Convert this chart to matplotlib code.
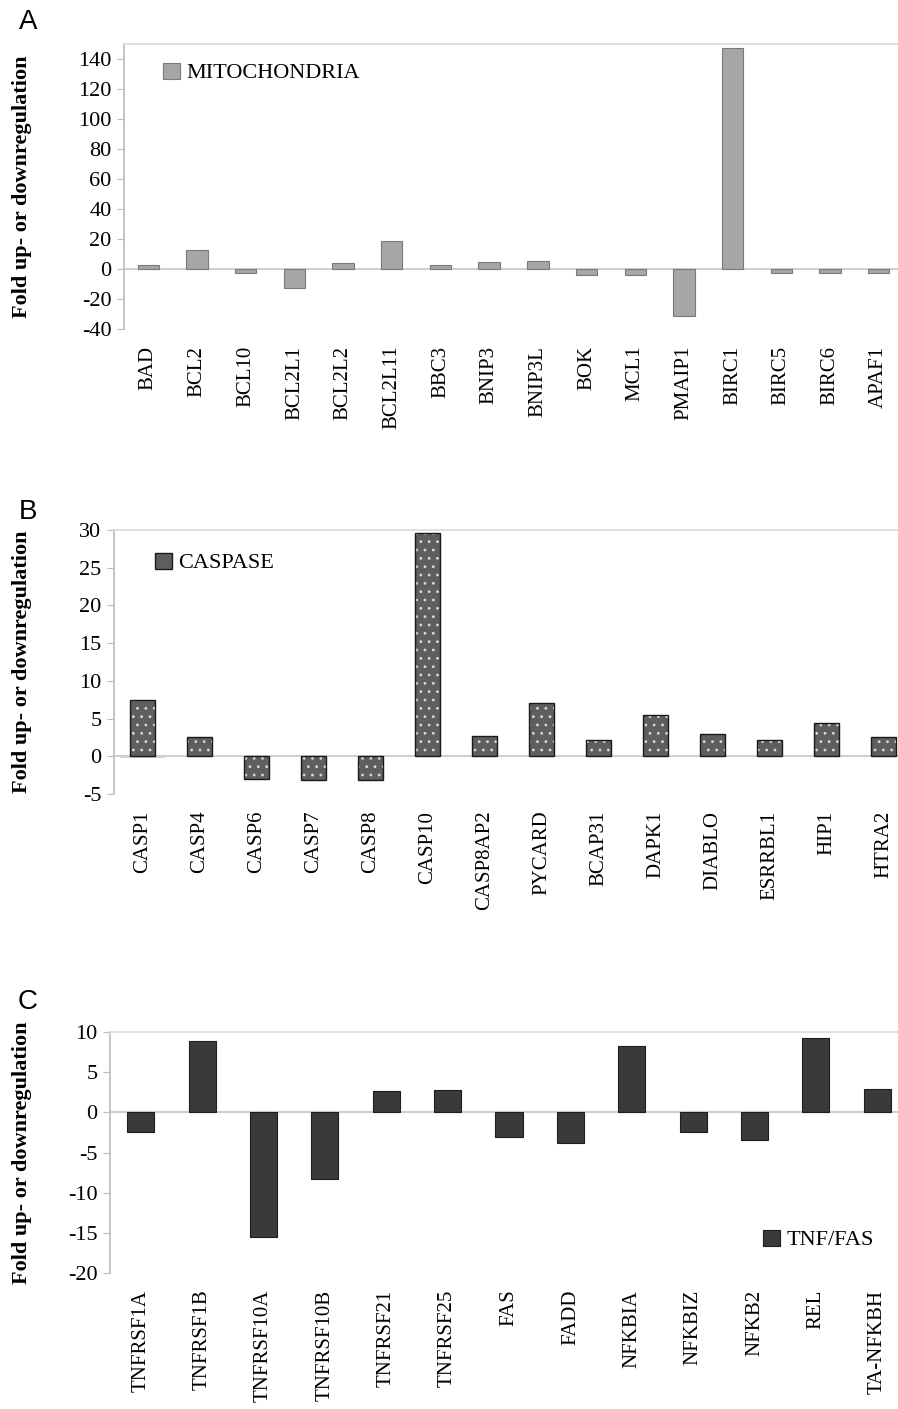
import matplotlib
matplotlib.use("Agg")
import matplotlib.pyplot as plt

plt.rcParams['font.family'] = ['Liberation Serif', 'DejaVu Serif']
plt.rcParams['hatch.linewidth'] = 0.8

# panel A - mitochondria
mitoGenes = ['BAD', 'BCL2', 'BCL10', 'BCL2L1', 'BCL2L2', 'BCL2L11', 'BBC3', 'BNIP3',
             'BNIP3L', 'BOK', 'MCL1', 'PMAIP1', 'BIRC1', 'BIRC5', 'BIRC6', 'APAF1']
mitoFold = [2.8, 12.8, -2.6, -12.7, 3.7, 18.7, 2.8, 4.5, 5.3, -4.2, -4.2, -31, 147.5, -2.6, -2.6, -2.6]
mitoTicks = [-40, -20, 0, 20, 40, 60, 80, 100, 120, 140]

# panel B - caspase
caspGenes = ['CASP1', 'CASP4', 'CASP6', 'CASP7', 'CASP8', 'CASP10', 'CASP8AP2', 'PYCARD',
             'BCAP31', 'DAPK1', 'DIABLO', 'ESRRBL1', 'HIP1', 'HTRA2']
caspFold = [7.4, 2.6, -3.0, -3.2, -3.2, 29.6, 2.75, 7.1, 2.1, 5.5, 2.9, 2.2, 4.4, 2.6]
caspTicks = [-5, 0, 5, 10, 15, 20, 25, 30]

# panel C - TNF/FAS
tnfGenes = ['TNFRSF1A', 'TNFRSF1B', 'TNFRSF10A', 'TNFRSF10B', 'TNFRSF21', 'TNFRSF25', 'FAS',
            'FADD', 'NFKBIA', 'NFKBIZ', 'NFKB2', 'REL', 'TA-NFKBH']
tnfFold = [-2.4, 8.9, -15.5, -8.3, 2.6, 2.8, -3.1, -3.8, 8.2, -2.5, -3.4, 9.3, 2.95]
tnfTicks = [-20, -15, -10, -5, 0, 5, 10]

W, H = 898, 1409
fig = plt.figure(figsize=(W / 100, H / 100), dpi=100)


def make_axes(left, right, top, bottom):
    return fig.add_axes([left / W, 1 - bottom / H, (right - left) / W, (bottom - top) / H])


def style_axes(ax, genes, ticks, ylim):
    ax.set_xlim(-0.5, len(genes) - 0.5)
    ax.set_ylim(ylim)
    ax.set_yticks(ticks)
    ax.set_yticklabels([str(t) for t in ticks], fontsize=16)
    ax.set_xticks(range(len(genes)))
    ax.set_xticklabels(genes, rotation=90, fontsize=15, va='top')
    ax.tick_params(axis='x', length=0, pad=12)
    ax.tick_params(axis='y', length=5, color='#bbbbbb', pad=4)
    for s in ['right', 'bottom']:
        ax.spines[s].set_visible(False)
    ax.spines['left'].set_color('#bbbbbb')
    ax.spines['top'].set_color('#d9d9d9')
    ax.spines['left'].set_linewidth(1.2)
    ax.spines['top'].set_linewidth(1.2)
    ax.axhline(0, color='#d0d0d0', lw=1.5, zorder=1)


def add_legend(ax, x, y):
    ax.legend(loc='center left', bbox_to_anchor=(x / W, 1 - y / H), bbox_transform=fig.transFigure,
              frameon=False, fontsize=16, handlelength=0.75, handleheight=0.75,
              handletextpad=0.3, borderpad=0, borderaxespad=0)


ylab = 'Fold up- or downregulation'

# A
axA = make_axes(124, 903, 44, 329)
axA.bar(range(len(mitoGenes)), mitoFold, width=0.44, color='#a6a6a6', edgecolor='#7a7a7a',
        lw=0.8, zorder=2, label='MITOCHONDRIA')
style_axes(axA, mitoGenes, mitoTicks, (-40, 150))
add_legend(axA, 163, 73)

# B  (dotted fill: white dots on dark grey, black outline on top)
axB = make_axes(114, 912, 530, 794)
axB.bar(range(len(caspGenes)), caspFold, width=0.44, color='#5e5e5e', edgecolor='#d8d8d8',
        lw=0, hatch='..', zorder=2)
axB.bar(range(len(caspGenes)), caspFold, width=0.44, fill=False, edgecolor='#1a1a1a',
        lw=1.0, zorder=3)
axB.bar([0], [0], color='#5e5e5e', edgecolor='#1a1a1a', lw=1.0, label='CASPASE')
style_axes(axB, caspGenes, caspTicks, (-5, 30))
add_legend(axB, 155, 563)

# C
axC = make_axes(110, 908, 1032, 1273)
axC.bar(range(len(tnfGenes)), tnfFold, width=0.44, color='#3a3a3a', edgecolor='#1e1e1e',
        lw=0.8, zorder=2, label='TNF/FAS')
style_axes(axC, tnfGenes, tnfTicks, (-20, 10))
add_legend(axC, 763, 1240)

for ax, letter, ly in [(axA, 'A', 22), (axB, 'B', 512), (axC, 'C', 1002)]:
    pos = ax.get_position()
    fig.text(22 / W, (pos.y0 + pos.y1) / 2, ylab, rotation=90, ha='center', va='center',
             fontsize=16, fontweight='bold')
    fig.text(28 / W, 1 - ly / H, letter, ha='center', va='center', fontsize=20,
             family='Liberation Sans')

fig.savefig('out.png', dpi=100)
